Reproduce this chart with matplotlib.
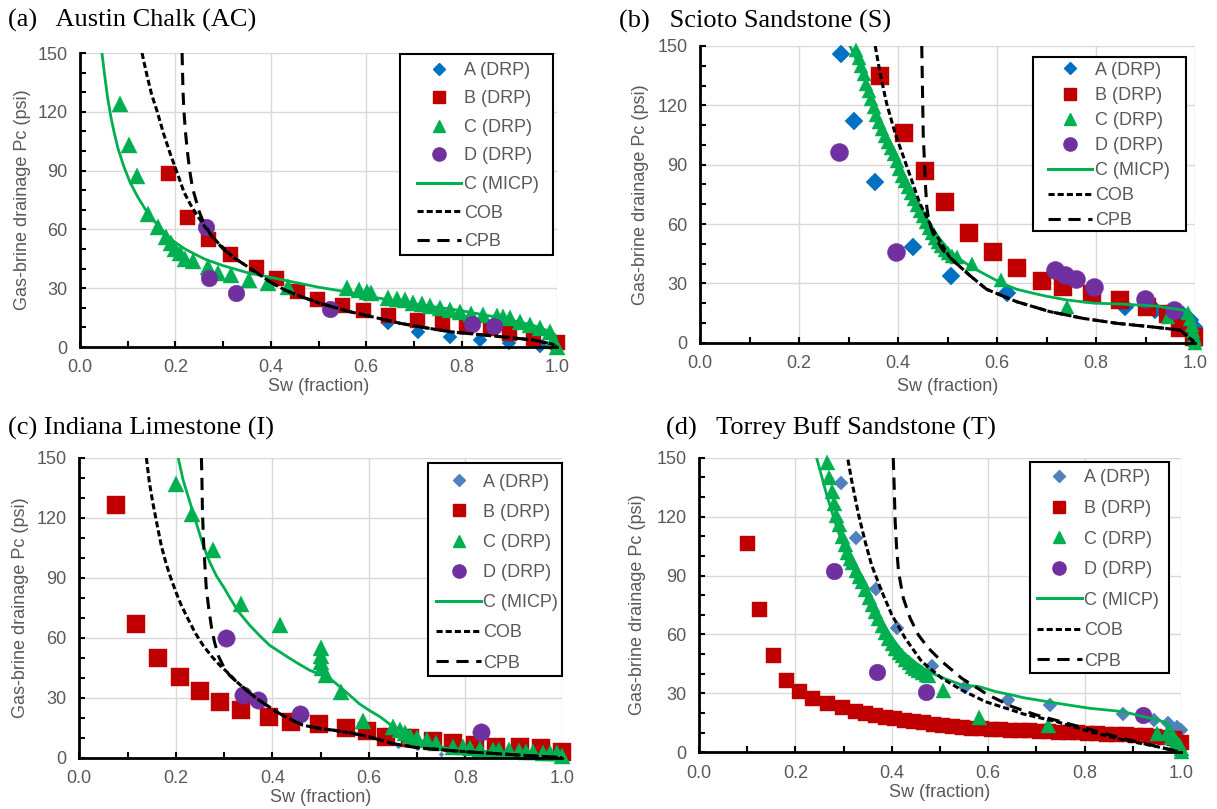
import matplotlib
matplotlib.use("Agg")
import matplotlib.pyplot as plt
from matplotlib.lines import Line2D
from matplotlib.patches import Rectangle
from matplotlib.ticker import MultipleLocator, FormatStrFormatter

plt.rcParams['font.family'] = ['Liberation Sans', 'DejaVu Sans']

# ---------------- Panel (a) Austin Chalk ----------------
a_A_sw = [0.646, 0.709, 0.776, 0.839, 0.90, 0.964]
a_A_pc = [12.1, 7.8, 5.3, 3.6, 2.2, 0.5]
a_B_sw = [0.185, 0.224, 0.268, 0.315, 0.368, 0.41, 0.454, 0.497, 0.549, 0.594, 0.646, 0.706,
          0.758, 0.81, 0.86, 0.90, 0.95, 1.0]
a_B_pc = [89, 66.5, 55, 47.2, 41, 35, 28.5, 24.7, 21.5, 18.9, 16.4, 13.8, 12.1, 10.5, 9.5, 7, 4.6, 2.7]
a_C_sw = [0.083, 0.103, 0.12, 0.142, 0.163, 0.18, 0.19, 0.20, 0.21, 0.22, 0.236, 0.268, 0.29, 0.317,
          0.355, 0.394, 0.437, 0.559, 0.584, 0.601, 0.611, 0.646, 0.664, 0.681, 0.698, 0.716, 0.734,
          0.755, 0.776, 0.797, 0.82, 0.845, 0.874, 0.887, 0.901, 0.922, 0.943, 0.964, 0.985, 0.992, 0.999]
a_C_pc = [124, 103, 87.4, 68, 61, 56, 53, 50, 48, 45, 44, 41, 38, 36.6, 34, 32.4, 30.7, 30, 29, 28.3,
          27.6, 24.9, 24.4, 23.9, 22.7, 21.7, 21.0, 19.8, 18.9, 18, 17, 16.3, 15.7, 15.1, 14.7, 13,
          11.3, 9.6, 7.9, 3, 0]
a_D_sw = [0.264, 0.271, 0.326, 0.525, 0.821, 0.867]
a_D_pc = [61.4, 35.3, 27.3, 19.6, 11.7, 10.7]
a_M_sw = [0.046, 0.052, 0.058, 0.065, 0.072, 0.08, 0.092, 0.105, 0.12, 0.14, 0.16, 0.19, 0.22, 0.26,
          0.30, 0.35, 0.40, 0.45, 0.50, 0.55, 0.60, 0.70, 0.80, 0.90, 0.95, 0.99, 1.0]
a_M_pc = [150, 138, 127, 117, 109, 101, 92, 84, 77, 69, 63, 55, 50, 45, 41.5, 38, 35.5, 33, 30.5,
          28.5, 26, 22, 18.5, 14, 11, 7.5, 5]
a_COB_sw = [0.13, 0.14, 0.15, 0.162, 0.175, 0.19, 0.205, 0.218, 0.232, 0.246, 0.26, 0.275, 0.29,
            0.303, 0.32, 0.345, 0.37, 0.40, 0.43, 0.465, 0.50, 0.566, 0.62, 0.671, 0.72, 0.776,
            0.83, 0.88, 0.95, 0.99, 1.0]
a_COB_pc = [150, 139, 129, 120, 109, 98, 88, 79, 72.5, 67, 62, 57, 53, 50, 46, 42, 38, 33, 29, 25.6,
            22.5, 18, 15, 12.1, 10, 7.8, 6.5, 5.3, 3.6, 1.5, 0]
a_CPB_sw = [0.214, 0.215, 0.216, 0.218, 0.221, 0.225, 0.23, 0.236, 0.243, 0.25, 0.26, 0.275, 0.30,
            0.32, 0.345, 0.37, 0.40, 0.43, 0.465, 0.50, 0.566, 0.62, 0.671, 0.72, 0.776, 0.83,
            0.88, 0.95, 0.99, 1.0]
a_CPB_pc = [150, 140, 130, 120, 110, 100, 90, 81, 75, 69, 63, 57, 50, 46, 42, 38, 33, 29, 25.6, 22.5,
            18, 15, 12.1, 10, 7.8, 6.5, 5.3, 3.6, 1.5, 0]

# ---------------- Panel (b) Scioto Sandstone ----------------
b_A_sw = [0.284, 0.312, 0.354, 0.431, 0.508, 0.62, 0.859, 0.919, 0.975, 0.99, 0.997]
b_A_pc = [146, 112, 81.4, 48.2, 33.7, 25, 18.2, 16.5, 14, 11.5, 8]
b_B_sw = [0.364, 0.413, 0.455, 0.495, 0.544, 0.591, 0.641, 0.691, 0.733, 0.791, 0.848, 0.904,
          0.946, 0.97, 0.998]
b_B_pc = [134.8, 106, 86.8, 71.3, 55.6, 46, 37.6, 31.2, 28, 24.6, 21.6, 18.2, 14.5, 7.5, 3]
b_C_sw = [0.316, 0.321, 0.326, 0.331, 0.336, 0.341, 0.346, 0.351, 0.356, 0.361, 0.367, 0.373,
          0.379, 0.385, 0.391, 0.397, 0.403, 0.409, 0.415, 0.421, 0.427, 0.433, 0.439, 0.445,
          0.451, 0.457, 0.463, 0.469, 0.475, 0.481, 0.487, 0.494, 0.501, 0.509, 0.52, 0.549,
          0.609, 0.741, 0.946, 0.985, 0.99, 0.993, 0.996, 0.998, 1.0, 1.0]
b_C_pc = [148, 144, 140, 136, 131, 127, 123, 119, 115, 111.5, 108, 104.5, 101.5, 98.5, 95.5, 92,
          88, 84.5, 81.5, 78.5, 75.5, 72.5, 69.5, 66.5, 64, 61, 58, 55.5, 53, 51, 49, 47, 45.5,
          44, 43.5, 40, 31.7, 18.2, 12.8, 15, 12, 9, 6, 3.5, 1.5, 0]
b_D_sw = [0.281, 0.395, 0.717, 0.737, 0.76, 0.795, 0.899, 0.958]
b_D_pc = [96.6, 46, 36.8, 34.2, 32, 28, 21.9, 16.5]
b_M_sw = [0.303, 0.32, 0.34, 0.36, 0.38, 0.40, 0.42, 0.44, 0.46, 0.48, 0.50, 0.52, 0.55, 0.58,
          0.61, 0.64, 0.673, 0.70, 0.741, 0.795, 0.855, 0.922, 0.976, 0.99, 1.0]
b_M_pc = [150, 141, 128, 115, 103, 92, 81, 71, 62, 54, 47.5, 43, 38, 34, 30, 27, 25, 23.5, 21.6,
          20, 19.5, 18.5, 16.5, 13, 4]
b_COB_sw = [0.354, 0.364, 0.377, 0.394, 0.418, 0.444, 0.471, 0.505, 0.545, 0.579, 0.64, 0.707,
            0.774, 0.842, 0.909, 0.97, 1.0]
b_COB_pc = [150, 136, 121, 106, 89, 70.5, 57, 43, 34, 27, 20.7, 15.7, 12.3, 9.8, 8.1, 6.4, 0]
b_CPB_sw = [0.448, 0.449, 0.45, 0.451, 0.453, 0.455, 0.458, 0.462, 0.471, 0.49, 0.505, 0.545,
            0.579, 0.64, 0.707, 0.774, 0.842, 0.909, 0.97, 1.0]
b_CPB_pc = [150, 135, 120, 105, 94, 82, 69, 62, 55, 47, 43, 34, 27, 20.7, 15.7, 12.3, 9.8, 8.1,
            6.4, 0]

# ---------------- Panel (c) Indiana Limestone ----------------
c_A_sw = [0.6, 0.66, 0.7, 0.75, 0.82, 0.9, 0.97, 1.0]
c_A_pc = [12, 6, 5, 2, 0.5, 1.5, 3, 1]
c_B_sw = [0.077, 0.117, 0.163, 0.208, 0.25, 0.291, 0.336, 0.393, 0.438, 0.497, 0.553, 0.595,
          0.636, 0.685, 0.733, 0.774, 0.819, 0.864, 0.912, 0.957, 1.0]
c_B_pc = [126.7, 66.7, 50, 40.5, 33.3, 28, 23.8, 20.5, 18, 16.7, 15, 13.5, 10.5, 9.7, 8.5, 7.2,
          6.3, 5.5, 5.2, 4.7, 3]
c_C_sw = [0.201, 0.234, 0.277, 0.336, 0.415, 0.50, 0.50, 0.50, 0.503, 0.512, 0.543, 0.588, 0.65,
          0.664, 0.675, 0.685, 0.70, 0.72, 0.74, 0.775, 0.795, 0.81, 0.83, 0.857, 0.87, 0.89,
          0.91, 0.926, 0.94, 0.96, 0.975, 0.99, 1.0]
c_C_pc = [137, 122, 104, 77, 66.3, 54.7, 51, 48, 44.7, 41.3, 33, 18.5, 15.5, 13.8, 12.5, 11, 10,
          8.8, 7.5, 5.5, 5.5, 4.8, 4.5, 3.8, 4, 3.8, 3.5, 3, 3, 2.5, 2.5, 2.5, 0.8]
c_D_sw = [0.303, 0.339, 0.37, 0.457, 0.833]
c_D_pc = [59.7, 31.3, 28.8, 21.7, 13]
c_M_sw = [0.205, 0.215, 0.229, 0.243, 0.257, 0.27, 0.284, 0.30, 0.312, 0.33, 0.353, 0.374, 0.394,
          0.415, 0.436, 0.457, 0.477, 0.50, 0.519, 0.54, 0.56, 0.58, 0.60, 0.623, 0.65, 0.70,
          0.77, 0.85, 0.95, 1.0]
c_M_pc = [150, 139, 128, 117, 106, 98, 91, 85, 80, 73, 66.3, 61, 56.3, 53, 49.7, 46.6, 43.8, 41.5,
          39.7, 35.5, 31.3, 27, 23.8, 20.5, 15.5, 9, 4, 3, 1.5, 0]
c_COB_sw = [0.139, 0.145, 0.152, 0.16, 0.17, 0.18, 0.188, 0.2, 0.21, 0.222, 0.24, 0.257, 0.275,
            0.291, 0.31, 0.326, 0.345, 0.367, 0.39, 0.408, 0.435, 0.463, 0.50, 0.526, 0.56, 0.6,
            0.65, 0.7, 0.8, 0.9, 1.0]
c_COB_pc = [150, 138, 128, 118, 106, 97, 91, 83, 77, 71, 62.5, 56, 50.5, 46.3, 42, 38, 34, 29.7,
            26, 23, 19.5, 16.3, 14.5, 13.8, 12.5, 10.5, 7, 5, 3, 1.5, 0]
c_CPB_sw = [0.253, 0.254, 0.255, 0.257, 0.26, 0.263, 0.268, 0.274, 0.28, 0.288, 0.30, 0.312,
            0.326, 0.345, 0.367, 0.39, 0.408, 0.435, 0.463, 0.50, 0.526, 0.56, 0.6, 0.65, 0.7,
            0.8, 0.9, 1.0]
c_CPB_pc = [150, 140, 125, 110, 97, 85, 75, 65, 58, 51, 45, 41, 38, 34, 29.7, 26, 23, 19.5, 16.3,
            14.5, 13.8, 12.5, 10.5, 7, 5, 3, 1.5, 0]

# ---------------- Panel (d) Torrey Buff Sandstone ----------------
d_A_sw = [0.295, 0.326, 0.367, 0.41, 0.484, 0.551, 0.642, 0.728, 0.88, 0.943, 0.974, 0.991, 1.0]
d_A_pc = [137, 109, 83.2, 63.2, 44.1, 33.4, 26.7, 24.1, 19.5, 16.5, 14.8, 13, 11.4]
d_B_sw = [0.099, 0.125, 0.153, 0.18, 0.208, 0.235, 0.265, 0.296, 0.324, 0.345, 0.365, 0.385,
          0.405, 0.425, 0.445, 0.465, 0.485, 0.505, 0.525, 0.545, 0.565, 0.585, 0.605, 0.625,
          0.645, 0.665, 0.685, 0.705, 0.725, 0.745, 0.765, 0.785, 0.805, 0.825, 0.845, 0.865,
          0.885, 0.905, 0.925, 0.945, 0.965, 0.985, 1.0]
d_B_pc = [106.8, 72.8, 49.6, 36.8, 31.2, 27.8, 25, 22.9, 21, 20, 19, 18, 17.3, 16.5, 15.8, 15.2,
          14.6, 14, 13.5, 13, 12.6, 12.3, 12, 11.8, 11.5, 11.3, 11.1, 10.9, 10.7, 10.5, 10.3,
          10.1, 9.9, 9.7, 9.5, 9.3, 9.1, 8.9, 8.6, 8.3, 7.9, 7.3, 5]
d_C_sw = [0.265, 0.27, 0.275, 0.28, 0.285, 0.29, 0.296, 0.302, 0.308, 0.313, 0.317, 0.325, 0.332,
          0.338, 0.345, 0.352, 0.358, 0.365, 0.372, 0.379, 0.386, 0.393, 0.40, 0.407, 0.414,
          0.421, 0.428, 0.435, 0.442, 0.448, 0.455, 0.462, 0.47, 0.476, 0.507, 0.58, 0.725,
          0.95, 0.97, 0.98, 0.99, 0.995, 1.0, 1.0]
d_C_pc = [148, 140, 133, 127, 121, 116, 110, 106, 102, 99, 97, 93, 90, 87, 83, 79, 75.5, 72, 68.5,
          65, 61.5, 58, 55.5, 53, 51, 49.5, 47.5, 46, 44, 43, 42, 41, 40, 39.4, 31.7, 18.2, 13.9,
          9.7, 10, 8, 6, 4, 2, 0.5]
d_D_sw = [0.281, 0.369, 0.471, 0.922]
d_D_pc = [92.4, 40.7, 30.9, 19]
d_M_sw = [0.244, 0.255, 0.265, 0.275, 0.282, 0.295, 0.31, 0.325, 0.338, 0.355, 0.379, 0.40, 0.421,
          0.45, 0.476, 0.51, 0.545, 0.58, 0.614, 0.656, 0.673, 0.742, 0.811, 0.88, 0.95, 0.97,
          0.985, 1.0]
d_M_pc = [150, 140, 131, 123, 117.5, 108, 99, 91, 85, 77, 66.6, 58.5, 51.3, 45.5, 41, 37.5, 34.3,
          33.5, 31, 28.8, 27.8, 25, 22.4, 20.7, 16.5, 15, 10, 2]
d_COB_sw = [0.309, 0.317, 0.331, 0.345, 0.358, 0.379, 0.40, 0.428, 0.462, 0.504, 0.545, 0.594,
            0.649, 0.673, 0.742, 0.811, 0.88, 0.95, 0.98, 1.0]
d_COB_pc = [149, 138, 121, 107, 95.4, 82, 70, 58, 46.2, 37.7, 31.7, 25.8, 21.5, 19.5, 15.6, 10.5,
            6.3, 2.9, 1.2, 0]
d_CPB_sw = [0.403, 0.405, 0.407, 0.41, 0.414, 0.419, 0.424, 0.438, 0.455, 0.476, 0.504, 0.545,
            0.6, 0.649, 0.7, 0.76, 0.82, 0.88, 0.95, 0.98, 1.0]
d_CPB_pc = [150, 135, 117.5, 104, 92, 85, 78.4, 68.3, 59.8, 53, 46.2, 37.7, 29.2, 23.3, 19, 15,
            11, 7, 3, 1.2, 0]

legend_labels = ["A (DRP)", "B (DRP)", "C (DRP)", "D (DRP)", "C (MICP)", "COB", "CPB"]
titles = ["(a)   Austin Chalk (AC)", "(b)   Scioto Sandstone (S)",
          "(c) Indiana Limestone (I)", "(d)   Torrey Buff Sandstone (T)"]

RED = "#C00000"
GREEN = "#00B050"
PURPLE = "#7030A0"
GRAY = "#595959"
COB_LS = (0, (2.0, 1.0))
CPB_LS = (0, (4.0, 2.5))

W, H = 1217, 809
fig = plt.figure(figsize=(W / 100, H / 100), dpi=100)


def px_axes(l, r, t, b):
    return [l / W, 1 - b / H, (r - l) / W, (b - t) / H]


panels = [
    dict(rect=px_axes(80, 557, 53, 347),
         data=(a_A_sw, a_A_pc, a_B_sw, a_B_pc, a_C_sw, a_C_pc, a_D_sw, a_D_pc,
               a_M_sw, a_M_pc, a_COB_sw, a_COB_pc, a_CPB_sw, a_CPB_pc),
         colA="#0070C0", ms=dict(A=6.8, B=10.8, C=11.5, D=12),
         box=(0.671, 0.313, 0.992, 0.997), leg=(0.7065, 0.970), lsp=0.64,
         xl=-0.136, yl=-0.1195, title=(8, 20)),
    dict(rect=px_axes(700, 1195, 46, 342.7),
         data=(b_A_sw, b_A_pc, b_B_sw, b_B_pc, b_C_sw, b_C_pc, b_D_sw, b_D_pc,
               b_M_sw, b_M_pc, b_COB_sw, b_COB_pc, b_CPB_sw, b_CPB_pc),
         colA="#0070C0", ms=dict(A=9, B=13, C=10.5, D=13),
         box=(0.673, 0.3775, 0.982, 0.962), leg=(0.703, 0.947), lsp=0.45,
         xl=-0.149, yl=-0.121, title=(619, 21.7)),
    dict(rect=px_axes(79.3, 562, 458, 757.7),
         data=(c_A_sw, c_A_pc, c_B_sw, c_B_pc, c_C_sw, c_C_pc, c_D_sw, c_D_pc,
               c_M_sw, c_M_pc, c_COB_sw, c_COB_pc, c_CPB_sw, c_CPB_pc),
         colA="#4F81BD", ms=dict(A=2.5, B=12.5, C=11, D=12.5),
         box=(0.722, 0.274, 0.999, 0.982), leg=(0.740, 0.948), lsp=0.73,
         xl=-0.134, yl=-0.121, title=(8, 428)),
    dict(rect=px_axes(699, 1181, 457.7, 752.3),
         data=(d_A_sw, d_A_pc, d_B_sw, d_B_pc, d_C_sw, d_C_pc, d_D_sw, d_D_pc,
               d_M_sw, d_M_pc, d_COB_sw, d_COB_pc, d_CPB_sw, d_CPB_pc),
         colA="#4F81BD", ms=dict(A=7.6, B=10.8, C=10.8, D=12),
         box=(0.687, 0.268, 0.975, 0.986), leg=(0.702, 0.960), lsp=0.75,
         xl=-0.138, yl=-0.1266, title=(666, 428)),
]

for p, title in zip(panels, titles):
    ax = fig.add_axes(p["rect"])
    (A_sw, A_pc, B_sw, B_pc, C_sw, C_pc, D_sw, D_pc,
     M_sw, M_pc, COB_sw, COB_pc, CPB_sw, CPB_pc) = p["data"]
    ms = p["ms"]
    colA = p["colA"]

    ax.plot(A_sw, A_pc, ls="none", marker="D", ms=ms["A"], color=colA, mec=colA, mew=0.3,
            zorder=3, clip_on=False)
    ax.plot(B_sw, B_pc, ls="none", marker="s", ms=ms["B"], color=RED, mec=RED, mew=0.3,
            zorder=3, clip_on=False)
    ax.plot(C_sw, C_pc, ls="none", marker="^", ms=ms["C"], color=GREEN, mec=GREEN, mew=0.3,
            zorder=3, clip_on=False)
    ax.plot(D_sw, D_pc, ls="none", marker="o", ms=ms["D"], color=PURPLE, mec=PURPLE, mew=0.3,
            zorder=3, clip_on=False)
    ax.plot(M_sw, M_pc, color=GREEN, lw=2.0, zorder=4)
    ax.plot(COB_sw, COB_pc, color="black", lw=2.2, ls=COB_LS, zorder=4)
    ax.plot(CPB_sw, CPB_pc, color="black", lw=2.2, ls=CPB_LS, zorder=4)

    ax.set_xlim(0, 1.0)
    ax.set_ylim(0, 150)
    ax.xaxis.set_major_locator(MultipleLocator(0.2))
    ax.xaxis.set_minor_locator(MultipleLocator(0.1))
    ax.yaxis.set_major_locator(MultipleLocator(30))
    ax.yaxis.set_minor_locator(MultipleLocator(10))
    ax.xaxis.set_major_formatter(FormatStrFormatter("%.1f"))
    ax.grid(True, which="major", color="#D9D9D9", lw=1.0, zorder=0)
    ax.set_axisbelow(True)
    for s in ("top", "right"):
        ax.spines[s].set_visible(False)
    for s in ("left", "bottom"):
        ax.spines[s].set_linewidth(2.0)
        ax.spines[s].set_color("black")
        ax.spines[s].set_zorder(4.5)
    ax.tick_params(which="both", direction="in", length=4, width=1.5, color="black",
                   labelsize=13, labelcolor=GRAY)
    ax.tick_params(axis="x", which="major", pad=9)
    ax.tick_params(axis="y", which="major", pad=9)

    ax.set_xlabel("Sw (fraction)", fontsize=13, color=GRAY)
    ax.set_ylabel("Gas-brine drainage Pc (psi)", fontsize=13, color=GRAY)
    ax.xaxis.label.set_va("center")
    ax.yaxis.label.set_va("center")
    ax.xaxis.set_label_coords(0.5, p["xl"])
    ax.yaxis.set_label_coords(p["yl"], 0.5)

    x0, y0, x1, y1 = p["box"]
    ax.add_patch(Rectangle((x0, y0), x1 - x0, y1 - y0, transform=ax.transAxes,
                           facecolor="white", edgecolor="black", lw=1.5, zorder=5,
                           clip_on=False))
    handles = [
        Line2D([], [], ls="none", marker="D", ms=6, color=colA),
        Line2D([], [], ls="none", marker="s", ms=8.5, color=RED),
        Line2D([], [], ls="none", marker="^", ms=9, color=GREEN),
        Line2D([], [], ls="none", marker="o", ms=9.5, color=PURPLE),
        Line2D([], [], color=GREEN, lw=2.2),
        Line2D([], [], color="black", lw=2.2, ls=COB_LS),
        Line2D([], [], color="black", lw=2.2, ls=CPB_LS),
    ]
    leg = ax.legend(handles, legend_labels, loc="upper left", bbox_to_anchor=p["leg"],
                    frameon=False, borderpad=0, borderaxespad=0, fontsize=13,
                    handlelength=2.45, handletextpad=0.15, labelspacing=p["lsp"],
                    labelcolor=GRAY)
    leg.set_zorder(6)

    tx, ty = p["title"]
    fig.text(tx / W, 1 - ty / H, title, family=["Liberation Serif", "DejaVu Serif"],
             fontsize=19, va="center", ha="left", color="black")

fig.savefig("out.png", dpi=100)
